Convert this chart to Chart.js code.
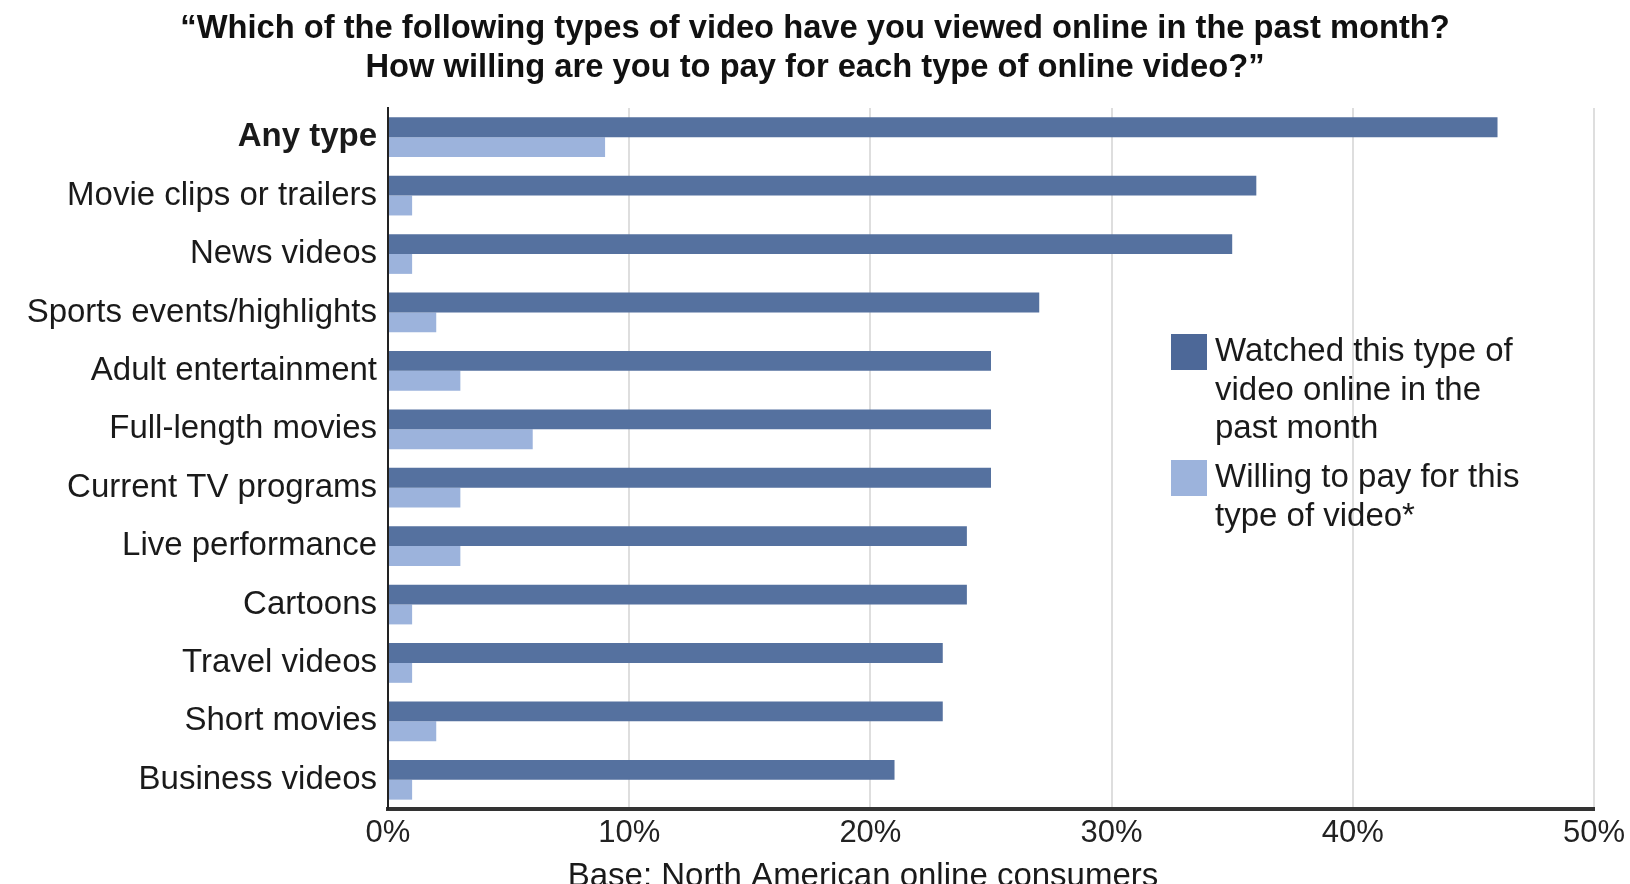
<!DOCTYPE html>
<html>
<head>
<meta charset="utf-8">
<script src="https://cdn.jsdelivr.net/npm/chart.js@4"></script>
<style>
  html, body { margin: 0; padding: 0; background: #fff; }
  #wrap { width: 1630px; height: 884px; }
</style>
</head>
<body>
<div id="wrap"><canvas id="videoChart" width="1630" height="884"></canvas></div>
<script>
// survey answers, percent of respondents
const categories = [
  "Any type", "Movie clips or trailers", "News videos", "Sports events/highlights",
  "Adult entertainment", "Full-length movies", "Current TV programs", "Live performance",
  "Cartoons", "Travel videos", "Short movies", "Business videos"
];
const watched = [46, 36, 35, 27, 25, 25, 25, 24, 24, 23, 23, 21];
const willingToPay = [9, 1, 1, 2, 3, 6, 3, 3, 1, 1, 2, 1];
const xTicks = [0, 10, 20, 30, 40, 50];

const titleLines = [
  "\u201CWhich of the following types of video have you viewed online in the past month?",
  "How willing are you to pay for each type of online video?\u201D"
];
const watchedLabel = ["Watched this type of", "video online in the", "past month"];
const payLabel = ["Willing to pay for this", "type of video*"];
const baseNote = "Base: North American online consumers";

const FONT = "'Liberation Sans', Arial, sans-serif";
const darkBlue = "#55719f";
const lightBlue = "#9cb3dc";

// legend box and base note, drawn after the chart
const extras = {
  id: "extras",
  afterDraw(chart) {
    const ctx = chart.ctx;
    ctx.save();
    ctx.font = "33px " + FONT;
    ctx.textBaseline = "middle";
    ctx.textAlign = "left";
    const items = [
      { color: "#4d6898", lines: watchedLabel, y: 352 },
      { color: lightBlue, lines: payLabel, y: 478 }
    ];
    items.forEach(it => {
      ctx.fillStyle = it.color;
      ctx.fillRect(1171, it.y - 18, 36, 36);
      ctx.fillStyle = "#1a1a1a";
      it.lines.forEach((line, i) => ctx.fillText(line, 1215, it.y + i * 38.5));
    });

    ctx.textAlign = "center";
    ctx.textBaseline = "alphabetic";
    ctx.fillText(baseNote, 863, 886);
    ctx.restore();
  }
};

new Chart(document.getElementById("videoChart"), {
  type: "bar",
  data: {
    labels: categories,
    datasets: [
      { label: watchedLabel.join(" "), data: watched, backgroundColor: darkBlue },
      { label: payLabel.join(" "), data: willingToPay, backgroundColor: lightBlue }
    ]
  },
  options: {
    indexAxis: "y",
    responsive: false,
    animation: false,
    layout: { padding: 0 },
    datasets: { bar: { categoryPercentage: 0.68, barPercentage: 1.0, borderWidth: 0 } },
    plugins: {
      legend: { display: false },
      tooltip: { enabled: false },
      title: {
        display: true,
        text: titleLines,
        color: "#111",
        font: { family: FONT, size: 32.7, weight: "bold", lineHeight: 1.1875 },
        padding: { top: 10, bottom: 20.3 }
      }
    },
    scales: {
      x: {
        min: 0,
        max: 50,
        afterBuildTicks: s => { s.ticks = xTicks.map(v => ({ value: v })); },
        afterFit: s => { s.height = 75; s.paddingRight = 36; },
        ticks: {
          padding: 6,
          color: "#222",
          font: { family: FONT, size: 31 },
          callback: v => v + "%"
        },
        grid: { color: "#dedede", lineWidth: 2, drawTicks: false },
        border: { display: true, color: "#333", width: 4 }
      },
      y: {
        afterFit: s => { s.width = 388; },
        ticks: {
          padding: 11,
          color: "#1a1a1a",
          font: c => ({ family: FONT, size: 33, weight: c.index === 0 ? "bold" : "normal" })
        },
        grid: { display: false, drawTicks: false },
        border: { display: true, color: "#222", width: 2 }
      }
    }
  },
  plugins: [extras]
});
</script>
</body>
</html>
